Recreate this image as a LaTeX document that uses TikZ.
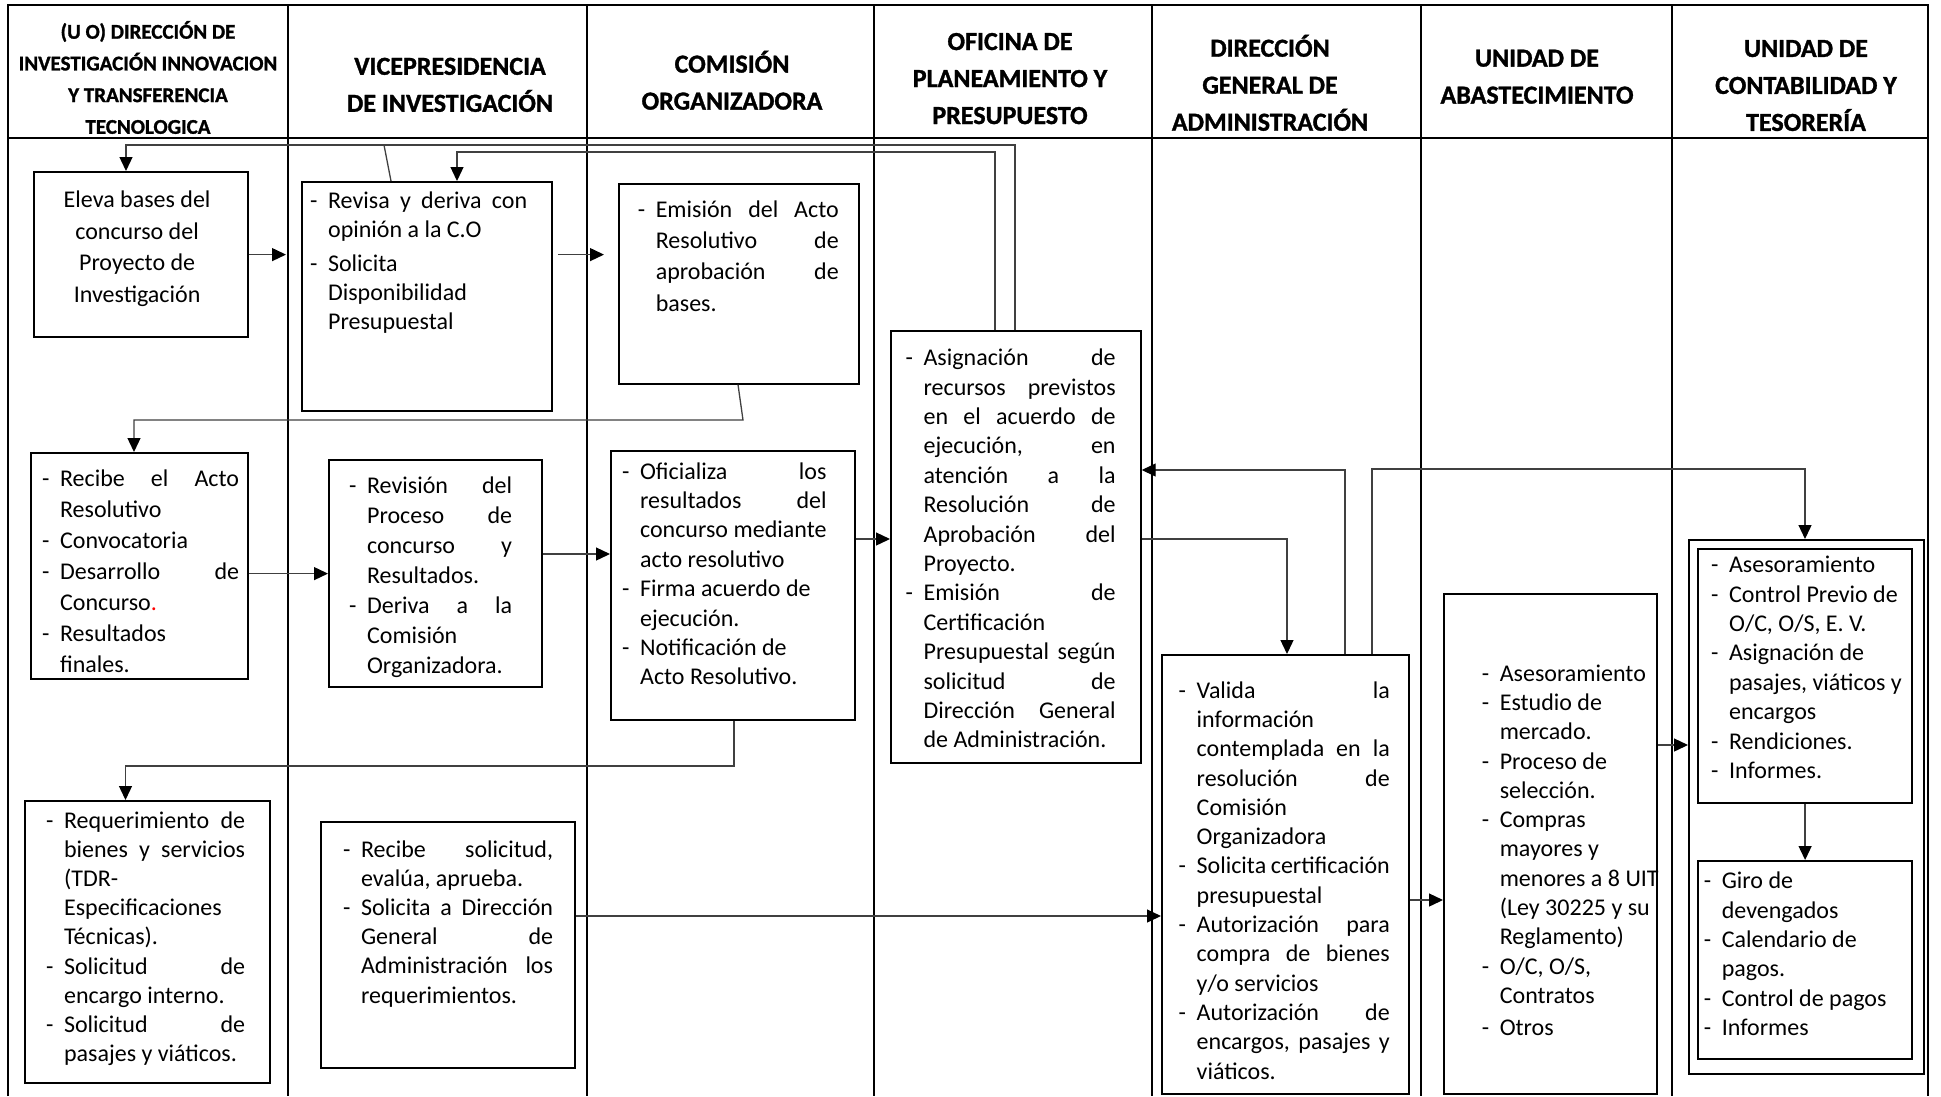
\documentclass[tikz,border=0pt]{standalone}
\usepackage{fontspec}
\setmainfont{Carlito}
\newfontfamily\hdrfam{Carlito}[BoldFeatures={FakeBold=1.2}]
\usetikzlibrary{arrows.meta}
\newlength\bw \setlength\bw{18pt}
\newcommand\bl{\leavevmode\strut\makebox[\bw][l]{-}}
\newcommand\cl{\leavevmode\strut\hspace*{\bw}}
% width, height, leftskip, top pad, rightskip, baselineskip, content
\newcommand\bt[7]{\parbox[c][#2pt][t]{#1pt}{\fontsize{24pt}{#6pt}\selectfont\vspace*{#4pt}\leftskip=#3pt\rightskip=#5pt\relax #7\par}}
\tikzset{
  bx/.style={draw=black, line width=2.2pt, fill=white, inner sep=0pt, anchor=north west},
  hdr/.style={anchor=north, align=center, inner sep=0pt, font=\hdrfam\bfseries\fontsize{26pt}{37pt}\selectfont},
  hdrs/.style={anchor=north, align=center, inner sep=0pt, font=\hdrfam\bfseries\fontsize{21pt}{31.7pt}\selectfont},
  frame/.style={line width=2.6pt, black},
  colline/.style={line width=1.2pt, black},
  ln/.style={line width=1.3pt, black!75},
  arr/.style={ln, -{Triangle[length=14pt,width=13pt,black]}}
}
\begin{document}
\begin{tikzpicture}[x=1pt,y=-1pt]
\fill[white] (0,0) rectangle (1941,1096);
\useasboundingbox (0,0) rectangle (1941,1096);
% frame and lanes
\foreach \x in {288,587,874,1152,1421,1672} \draw[colline] (\x,5) -- (\x,1096);
\draw[colline, line width=1.5pt] (8,138) -- (1928,138);
\draw[frame] (8,1096) -- (8,5) -- (1928,5) -- (1928,1096);
% headers
\node[hdrs] (h1) at (148,16.3) {\strut(U O) DIRECCIÓN DE\\INVESTIGACIÓN INNOVACION\\Y TRANSFERENCIA\\TECNOLOGICA};
\node[hdr] (h2) at (450,48.7) {\strut VICEPRESIDENCIA\\DE INVESTIGACIÓN};
\node[hdr] (h3) at (732,46.5) {\strut COMISIÓN\\ORGANIZADORA};
\node[hdr] (h4) at (1010,23.9) {\strut OFICINA DE\\PLANEAMIENTO Y\\PRESUPUESTO};
\node[hdr] (h5) at (1270,30.6) {\strut DIRECCIÓN\\GENERAL DE\\ADMINISTRACIÓN};
\node[hdr] (h6) at (1537,40.5) {\strut UNIDAD DE\\ABASTECIMIENTO};
\node[hdr] (h7) at (1806,30.8) {\strut UNIDAD DE\\CONTABILIDAD Y\\TESORERÍA};
% boxes
\node[bx] (A) at (33,171) {\bt{214}{165}{0}{13}{0}{31.8}{\leftskip=0pt plus 1fil\rightskip=8pt plus 1fil\parfillskip=0pt\strut Eleva bases del\par concurso del\par Proyecto de\par Investigación}};
\node[bx] (B) at (301,181) {\bt{250}{229}{8}{5.6}{25}{29.2}{%
\bl Revisa\hfill y\hfill deriva\hfill con\\
\cl opinión a la C.O\\[5pt]
\bl Solicita\\
\cl Disponibilidad\\
\cl Presupuestal}};
\node[bx, line width=1.6pt] (C) at (618,183) {\bt{240}{200}{19}{12.5}{20}{30.7}{%
\bl Emisión\hfill del\hfill Acto\\
\cl Resolutivo\hfill de\\
\cl aprobación\hfill de\\[1.5pt]
\cl bases.}};
\node[bx] (D) at (890,330) {\bt{249.5}{432}{14.5}{14}{25}{29.4}{%
\bl Asignación\hfill de\\
\cl recursos\hfill previstos\\
\cl en\hfill el\hfill acuerdo\hfill de\\
\cl ejecución,\hfill en\\
\cl atención\hfill a\hfill la\\
\cl Resolución\hfill de\\
\cl Aprobación\hfill del\\
\cl Proyecto.\\
\bl Emisión\hfill de\\
\cl Certificación\\
\cl Presupuestal\hfill según\\
\cl solicitud\hfill de\\
\cl Dirección\hfill General\\
\cl de Administración.}};
\node[bx] (E) at (30,452) {\bt{217}{226}{11}{11.6}{9}{31}{%
\bl Recibe\hfill el\hfill Acto\\
\cl Resolutivo\\
\bl Convocatoria\\
\bl Desarrollo\hfill de\\
\cl Concurso\textcolor{red}{.}\\
\bl Resultados\\
\cl finales.}};
\node[bx] (F) at (328,459) {\bt{213}{227}{20}{12}{30}{30}{%
\bl Revisión\hfill del\\
\cl Proceso\hfill de\\
\cl concurso\hfill y\\
\cl Resultados.\\
\bl Deriva\hfill a\hfill la\\
\cl Comisión\\
\cl Organizadora.}};
\node[bx] (G) at (610,450) {\bt{244}{269}{11}{7.4}{28.5}{29.4}{%
\bl Oficializa\hfill los\\
\cl resultados\hfill del\\
\cl concurso\hfill mediante\\
\cl acto resolutivo\\
\bl Firma acuerdo de\\
\cl ejecución.\\
\bl Notificación de\\
\cl Acto Resolutivo.}};
\node[bx] (H) at (24,800) {\bt{245}{282}{21}{6.6}{25}{29.2}{%
\bl Requerimiento\hfill de\\
\cl bienes\hfill y\hfill servicios\\
\cl (TDR-\\
\cl Especificaciones\\
\cl Técnicas).\\
\bl Solicitud\hfill de\\
\cl encargo interno.\\
\bl Solicitud\hfill de\\
\cl pasajes y viáticos.}};
\node[bx] (I) at (319.5,821) {\bt{254.5}{246}{22.5}{14.6}{22}{29.2}{%
\bl Recibe\hfill solicitud,\\
\cl evalúa, aprueba.\\
\bl Solicita\hfill a\hfill Dirección\\
\cl General\hfill de\\
\cl Administración\hfill los\\
\cl requerimientos.}};
\node[bx] (J) at (1161,654) {\bt{247}{439}{16.6}{22.5}{19.3}{29.3}{%
\bl Valida\hfill la\\
\cl información\\
\cl contemplada\hfill en\hfill la\\
\cl resolución\hfill de\\
\cl Comisión\\
\cl Organizadora\\
\bl Solicita\hfill certificación\\
\cl presupuestal\\
\bl Autorización\hfill para\\
\cl compra\hfill de\hfill bienes\\
\cl y/o servicios\\
\bl Autorización\hfill de\\
\cl encargos,\hfill pasajes\hfill y\\
\cl viáticos.}};
\node[bx] (K) at (1443,593) {\bt{213}{500}{37.7}{66.5}{-12}{29.3}{%
\bl Asesoramiento\\
\bl Estudio de\\
\cl mercado.\\
\bl Proceso de\\
\cl selección.\\
\bl Compras\\
\cl mayores y\\
\cl menores a 8 UIT\\
\cl (Ley 30225 y su\\
\cl Reglamento)\\
\bl O/C, O/S,\\
\cl Contratos\\[3pt]
\bl Otros}};
\node[bx, line width=2pt, minimum width=235pt, minimum height=534pt] (L) at (1688,539) {};
\node[bx] (M) at (1697,548) {\bt{214}{254}{13}{3.1}{-8}{29.4}{%
\bl Asesoramiento\\
\bl Control Previo de\\
\cl O/C, O/S, E. V.\\
\bl Asignación de\\
\cl pasajes, viáticos y\\
\cl encargos\\
\bl Rendiciones.\\
\bl Informes.}};
\node[bx] (N) at (1697,860) {\bt{214}{198}{5.7}{7}{0}{29.4}{%
\bl Giro de\\
\cl devengados\\
\bl Calendario de\\
\cl pagos.\\
\bl Control de pagos\\
\bl Informes}};
% coordinates for connector bends
\coordinate (c126) at (126,145);
\coordinate (c1015) at (1015,145);
\coordinate (j1) at (384,145);
\coordinate (c391) at (391,0);
\coordinate (c995) at (995,152);
\coordinate (c457) at (457,152);
\coordinate (c738) at (738,0);
\coordinate (c743) at (743,420);
\coordinate (c134) at (134,420);
\coordinate (y554) at (0,554);
\coordinate (y539) at (0,539);
\coordinate (c1287) at (1287,539);
\coordinate (c1345) at (1345,470);
\coordinate (c1372) at (1372,469);
\coordinate (c1805) at (1805,469);
\coordinate (y900) at (0,900);
\coordinate (y745) at (0,745);
\coordinate (y916) at (0,916);
\coordinate (c734) at (734,766);
\coordinate (c125) at (125.5,766);
% connectors
\draw[arr] (D.north -| c1015) -- (c1015) -- (c126) -- (A.north -| c126);
\draw[ln] (B.north -| c391) -- (j1);
\draw[arr] (D.north -| c995) -- (c995) -- (c457) -- (B.north -| c457);
\draw[arr, shorten >=15pt] (A.east) -- (A.east -| B.west);
\draw[arr, shorten <=5pt, shorten >=14pt] (B.east |- A.east) -- (C.west |- A.east);
\draw[arr] (C.south -| c738) -- (c743) -- (c134) -- (E.north -| c134);
\draw[arr] (E.east |- F.west) -- (F.west);
\draw[arr] (F.east |- y554) -- (G.west |- y554);
\draw[arr] (G.east |- y539) -- (D.west |- y539);
\draw[arr] (D.east |- y539) -- (c1287) -- (J.north -| c1287);
\draw[arr] (J.north -| c1345) -- (c1345) -- (D.east |- c1345);
\draw[arr] (J.north -| c1372) -- (c1372) -- (c1805) -- (L.north -| c1805);
\draw[arr] (J.east |- y900) -- (K.west |- y900);
\draw[arr] (K.east |- y745) -- (L.west |- y745);
\draw[arr] (M.south) -- (N.north);
\draw[arr] (I.east |- y916) -- (J.west |- y916);
\draw[arr] (G.south -| c734) -- (c734) -- (c125) -- (H.north -| c125);
\end{tikzpicture}
\end{document}
